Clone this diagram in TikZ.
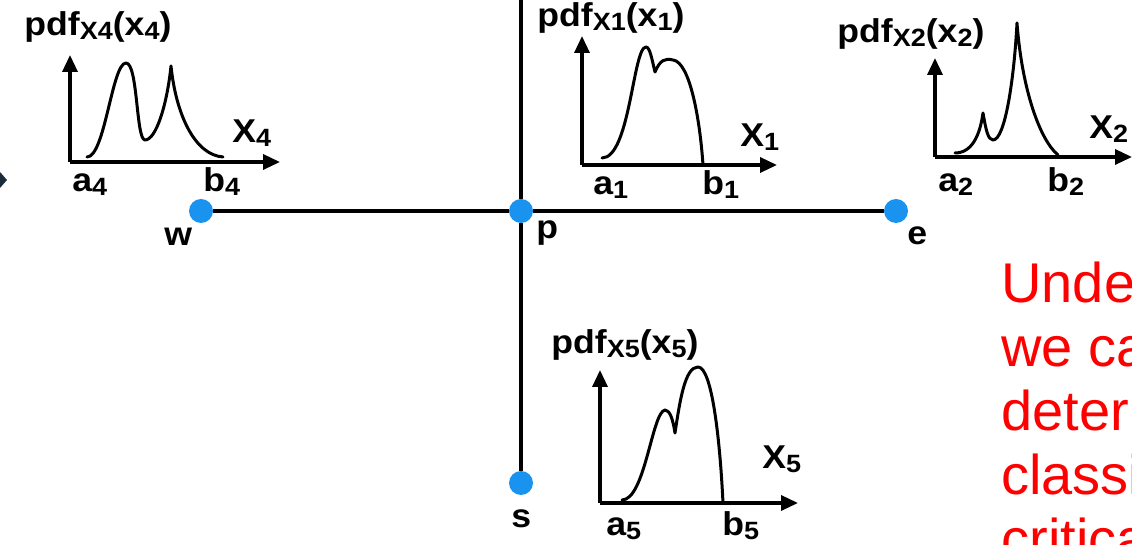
\documentclass[tikz,border=0pt]{standalone}
\usepackage{graphicx}
\usepackage{fontspec}
\setmainfont{Liberation Sans}
\usetikzlibrary{arrows.meta}
\definecolor{dotblue}{HTML}{1A93F0}
\definecolor{edgenavy}{HTML}{1B2B3B}
\definecolor{notered}{HTML}{FF0000}
\newcommand{\widetxt}[1]{\scalebox{1.08}[1]{#1}}
\newcommand{\lowtxt}[1]{\raisebox{-0.22ex}{\fontsize{12.5}{14}\selectfont #1}}

\begin{document}
\begin{tikzpicture}[x=0.5pt, y=-0.5pt,
    lbl/.style={font=\bfseries\fontsize{16.5}{19}\selectfont, inner sep=0pt, anchor=base west},
    dot/.style={circle, fill=dotblue, minimum size=12pt, inner sep=0pt},
    axis/.style={line width=1.7pt, -{Triangle[length=8.5pt,width=7.5pt]}},
    density/.style={line width=1.5pt, line join=round, line cap=round},
]
    \useasboundingbox (0, 0) rectangle (1132, 545);
    \clip (0, 0) rectangle (1132, 545);

    % cut-off tip at the left edge
    \fill[edgenavy] (0, 172) -- (7, 180) -- (0, 188) -- cycle;

    % cross of points
    \coordinate (top) at (521, 0);
    \node[dot] (w) at (201, 211) {};
    \node[dot] (p) at (521, 211) {};
    \node[dot] (e) at (896, 211) {};
    \node[dot] (s) at (521, 483) {};
    \draw[line width=1.75pt] (w) -- (p) -- (e);
    \draw[line width=1.75pt] (top) -- (p) -- (s);

    \node[lbl] (wlbl) at (164, 246) {\widetxt{w}};
    \node[lbl] (plbl) at (536, 239) {\widetxt{p}};
    \node[lbl] (elbl) at (907, 245) {\widetxt{e}};
    \node[lbl] (slbl) at (511, 528) {\widetxt{s}};

    % pdf of x4 (west)
    \draw[axis] (70, 162) -- (70, 55);
    \draw[axis] (70, 162) -- (280, 162);
    \draw[density] (87, 157) .. controls (105, 157) and (112, 63) .. (126, 63)
        .. controls (138, 63) and (136, 140) .. (145, 140)
        .. controls (156, 140) and (167, 105) .. (171, 66)
        .. controls (176, 115) and (195, 155) .. (223, 157);
    \node[lbl] (pdf4) at (24, 36) {\widetxt{pdf\lowtxt{X4}(x\lowtxt{4})}};
    \node[lbl] (ax4) at (232, 143) {\widetxt{X\lowtxt{4}}};
    \node[lbl] (a4) at (72, 192) {\widetxt{a\lowtxt{4}}};
    \node[lbl] (b4) at (203, 192) {\widetxt{b\lowtxt{4}}};

    % pdf of x1 (north)
    \draw[axis] (582, 165) -- (582, 36);
    \draw[axis] (582, 165) -- (777, 165);
    \draw[density] (602, 158) .. controls (630, 158) and (633, 47) .. (646, 47)
        .. controls (650, 47) and (652, 60) .. (655, 72)
        .. controls (660, 60) and (665, 58) .. (673, 60)
        .. controls (690, 62) and (700, 120) .. (703, 165);
    \node[lbl] (pdf1) at (537, 27) {\widetxt{pdf\lowtxt{X1}(x\lowtxt{1})}};
    \node[lbl] (ax1) at (740, 147) {\widetxt{X\lowtxt{1}}};
    \node[lbl] (a1) at (593, 195) {\widetxt{a\lowtxt{1}}};
    \node[lbl] (b1) at (702, 195) {\widetxt{b\lowtxt{1}}};

    % pdf of x2 (east)
    \draw[axis] (935, 157) -- (935, 58);
    \draw[axis] (935, 157) -- (1132, 157);
    \draw[density] (955, 153) .. controls (972, 153) and (980, 135) .. (983, 113)
        .. controls (986, 130) and (988, 140) .. (993, 140)
        .. controls (1005, 140) and (1014, 80) .. (1017, 23)
        .. controls (1022, 90) and (1040, 140) .. (1058, 155);
    \node[lbl] (pdf2) at (837, 43) {\widetxt{pdf\lowtxt{X2}(x\lowtxt{2})}};
    \node[lbl] (ax2) at (1089, 139) {\widetxt{X\lowtxt{2}}};
    \node[lbl] (a2) at (938, 192) {\widetxt{a\lowtxt{2}}};
    \node[lbl] (b2) at (1047, 192) {\widetxt{b\lowtxt{2}}};

    % pdf of x5 (south)
    \draw[axis] (600, 503) -- (600, 370);
    \draw[axis] (600, 503) -- (798, 503);
    \draw[density] (622, 500) .. controls (645, 500) and (652, 412) .. (665, 410)
        .. controls (670, 410) and (673, 420) .. (675, 433)
        .. controls (680, 400) and (685, 367) .. (698, 367)
        .. controls (712, 367) and (720, 440) .. (723, 503);
    \node[lbl] (pdf5) at (551, 354) {\widetxt{pdf\lowtxt{X5}(x\lowtxt{5})}};
    \node[lbl] (ax5) at (762, 469) {\widetxt{X\lowtxt{5}}};
    \node[lbl] (a5) at (606, 536) {\widetxt{a\lowtxt{5}}};
    \node[lbl] (b5) at (722, 536) {\widetxt{b\lowtxt{5}}};

    % note on the right, cut by the frame
    \node[font=\fontsize{28}{32}\selectfont, text=notered, align=left,
        inner sep=0pt, anchor=north west] (note) at (1001, 262)
        {Unde\\we ca\\determ\\classi\\critica};
\end{tikzpicture}
\end{document}
